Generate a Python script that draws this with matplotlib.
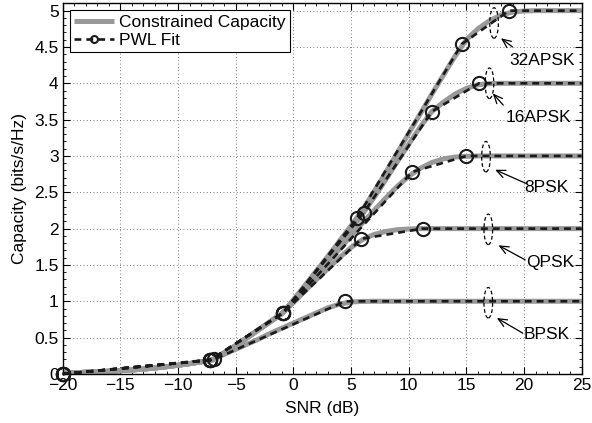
import matplotlib
matplotlib.use('Agg')
import matplotlib.pyplot as plt
from matplotlib.patches import Ellipse
from matplotlib.ticker import MultipleLocator

plt.rcParams['font.family'] = ['Liberation Sans', 'DejaVu Sans']
plt.rcParams['font.size'] = 12.5

# ── constrained capacity curves (1 dB grid) ──
snr_db = list(range(-20, 26))
low_part = [0.010, 0.016, 0.023, 0.030, 0.037, 0.045, 0.055, 0.067, 0.082, 0.100,
            0.120, 0.142, 0.167, 0.195]                      # -20 .. -7 dB
mid_part = [0.29, 0.39, 0.50, 0.61, 0.72, 0.83]               # -6 .. -1 dB

cap_bpsk = low_part + [0.27, 0.34, 0.41, 0.48, 0.56, 0.63,
                       0.70, 0.77, 0.84, 0.91, 0.96, 0.99, 0.998] + [1.0] * 19
cap_qpsk = low_part + mid_part + [0.98, 1.14, 1.30, 1.45, 1.60, 1.74, 1.85, 1.92,
                                  1.96, 1.985, 1.995] + [2.0] * 15
cap_8psk = low_part + mid_part + [1.00, 1.18, 1.36, 1.54, 1.72, 1.90, 2.08, 2.25,
                                  2.42, 2.58, 2.72, 2.83, 2.91, 2.96, 2.985, 2.995] + [3.0] * 10
cap_16apsk = low_part + mid_part + [1.01, 1.20, 1.40, 1.60, 1.80, 2.00, 2.20, 2.43,
                                    2.67, 2.92, 3.16, 3.40, 3.61, 3.74, 3.85, 3.93,
                                    3.98, 3.995] + [4.0] * 8
cap_32apsk = low_part + mid_part + [1.02, 1.22, 1.42, 1.62, 1.83, 2.04, 2.26, 2.51,
                                    2.77, 3.04, 3.31, 3.58, 3.85, 4.11, 4.37, 4.60,
                                    4.75, 4.86, 4.94, 4.98, 4.995] + [5.0] * 5

# ── piecewise-linear fits (breakpoints) ──
pwl_bpsk_x = [-20, -6.9, 4.5, 25]
pwl_bpsk_y = [0, 0.20, 1.0, 1.0]
pwl_qpsk_x = [-20, -7.2, -0.9, 5.9, 11.2, 25]
pwl_qpsk_y = [0, 0.19, 0.84, 1.86, 2.0, 2.0]
pwl_8psk_x = [-20, -7.2, -0.9, 10.3, 15.0, 25]
pwl_8psk_y = [0, 0.19, 0.84, 2.78, 3.0, 3.0]
pwl_16apsk_x = [-20, -7.2, -0.9, 6.1, 12.0, 16.1, 25]
pwl_16apsk_y = [0, 0.19, 0.84, 2.22, 3.61, 4.0, 4.0]
pwl_32apsk_x = [-20, -7.2, -0.9, 5.5, 14.6, 18.7, 25]
pwl_32apsk_y = [0, 0.19, 0.84, 2.14, 4.54, 5.0, 5.0]

labels = ['BPSK', 'QPSK', '8PSK', '16APSK', '32APSK']
caps = [cap_bpsk, cap_qpsk, cap_8psk, cap_16apsk, cap_32apsk]
pwl = [(pwl_bpsk_x, pwl_bpsk_y), (pwl_qpsk_x, pwl_qpsk_y), (pwl_8psk_x, pwl_8psk_y),
       (pwl_16apsk_x, pwl_16apsk_y), (pwl_32apsk_x, pwl_32apsk_y)]

# annotation positions: ellipse centre, arrow head, arrow tail, label centre
ell_xy = [(16.9, 0.98), (16.9, 1.99), (16.7, 2.99), (17.0, 4.0), (17.4, 4.83)]
arr_head = [(17.64, 0.77), (17.78, 1.77), (17.49, 2.81), (17.29, 3.86), (18.0, 4.62)]
arr_tail = [(19.9, 0.56), (20.1, 1.57), (20.2, 2.62), (18.2, 3.70), (19.0, 4.50)]
lab_xy = [(21.98, 0.54), (22.26, 1.54), (21.98, 2.57), (21.25, 3.53), (21.55, 4.31)]

fig = plt.figure(figsize=(5.92, 4.23), dpi=100)
ax = fig.add_axes([0.106, 0.116, 0.8766, 0.876])

for i, c in enumerate(caps):
    ax.plot(snr_db, c, color='#999999', lw=3.6, solid_capstyle='butt',
            label='Constrained Capacity' if i == 0 else None, zorder=2)

for i, (px, py) in enumerate(pwl):
    ax.plot(px, py, color='#1a1a1a', lw=1.9, linestyle=(0, (2.6, 1.9)),
            marker='o', markevery=list(range(len(px) - 1)), markersize=9.5,
            markerfacecolor='none', markeredgecolor='#1a1a1a', markeredgewidth=1.5,
            label='PWL Fit' if i == 0 else None, zorder=3, clip_on=False)

for e, h, t, l, name in zip(ell_xy, arr_head, arr_tail, lab_xy, labels):
    ax.add_patch(Ellipse(e, 0.75, 0.42, fill=False, edgecolor='black',
                         lw=0.9, linestyle=(0, (3, 2)), zorder=4))
    ax.annotate('', xy=h, xytext=t,
                arrowprops=dict(arrowstyle='->,head_length=0.5,head_width=0.22',
                                color='black', lw=0.9, shrinkA=0, shrinkB=0))
    ax.text(l[0], l[1], name, ha='center', va='center', zorder=5)

ax.set_xlim(-20, 25)
ax.set_ylim(0, 5.1)
ax.xaxis.set_major_locator(MultipleLocator(5))
ax.xaxis.set_minor_locator(MultipleLocator(1))
ax.yaxis.set_major_locator(MultipleLocator(0.5))
ax.yaxis.set_minor_locator(MultipleLocator(0.1))
ax.set_yticklabels([f'{v:g}' for v in ax.get_yticks()])
ax.tick_params(which='both', direction='in', top=True, right=True, pad=3)
ax.tick_params(which='major', length=5)
ax.tick_params(which='minor', length=2.5)
ax.grid(which='major', linestyle=(0, (1, 3)), color='#555555', lw=0.6)
for s in ax.spines.values():
    s.set_linewidth(1.0)

ax.set_xlabel('SNR (dB)', labelpad=6)
ax.set_ylabel('Capacity (bits/s/Hz)', labelpad=5)

leg = ax.legend(loc='upper left', fancybox=False, edgecolor='black', framealpha=1,
                handlelength=2.3, borderaxespad=0.4, borderpad=0.25,
                labelspacing=0.15, handletextpad=0.3)
leg.get_frame().set_linewidth(0.8)
for lh in leg.get_lines():
    lh.set_markersize(5)

fig.savefig('out.png', dpi=100)
